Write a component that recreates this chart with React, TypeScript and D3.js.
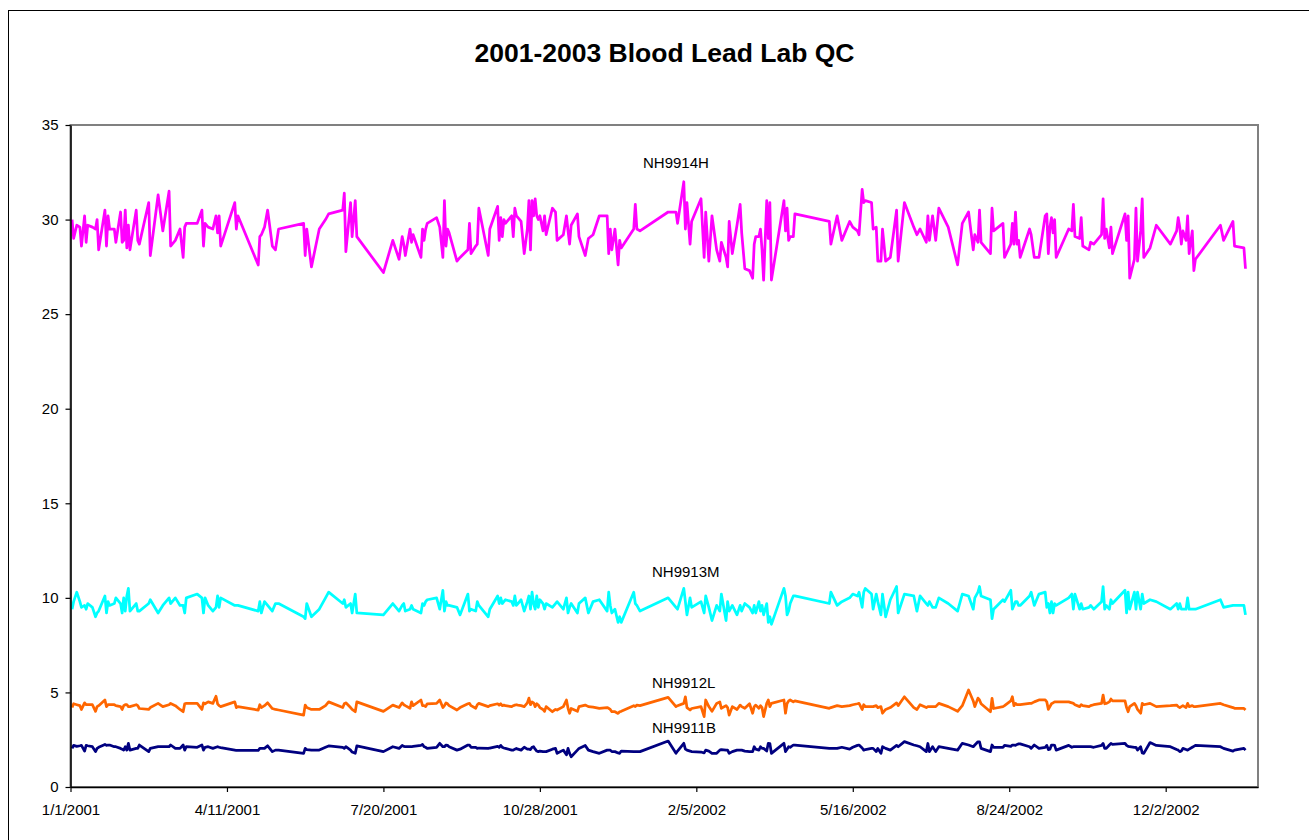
import React, { useEffect, useRef } from "react";
import * as d3 from "d3";

// days since 1/1/2001 for each QC run (shared by all four control materials)
const dayOffsets = [
  1, 2, 4, 6, 7, 9, 10, 11, 14, 16, 17, 18, 22, 23, 24, 25, 28, 29, 32, 33,
  34, 35, 36, 37, 38, 42, 43, 44, 50, 51, 56, 59, 63, 64, 67, 70, 72, 73, 74, 81,
  84, 85, 86, 88, 91, 93, 94, 95, 96, 105, 106, 107, 120, 121, 122, 124, 126, 129, 131, 133,
  149, 150, 151, 154, 159, 163, 165, 174, 175, 176, 179, 180, 182, 183,
  200, 206, 210, 212, 213, 214, 217, 218, 219, 224, 225, 226, 227, 228, 234, 236, 238, 239, 240, 241,
  242, 247, 249, 254, 255, 256, 259, 260, 261, 267, 268, 273, 274, 275, 276, 277, 278, 282, 283, 284,
  285, 286, 288, 290, 292, 293, 294, 295, 296, 297, 298, 299, 300, 302, 303, 304, 308, 310, 311, 315,
  317, 318, 319, 320, 324, 325, 329, 331, 334, 338, 343, 344, 345, 346, 348, 350, 351, 352, 360, 361,
  362, 364, 382, 387, 388,
  392, 393, 394, 396, 397, 403, 405, 406, 408, 410, 413, 415, 416, 419, 420, 421, 423, 426, 428, 429,
  431, 434, 436, 437, 438, 440, 441, 442, 443, 445, 446, 447, 448, 456, 457, 458, 459, 460, 462, 463,
  485, 486, 490, 493, 498, 500, 503, 504, 506, 507, 508, 512, 513, 515, 516, 518, 519, 521, 524, 528,
  529, 533, 539, 541, 543, 547, 548, 549, 551, 553, 555, 561, 567, 570, 574, 577, 578, 580, 581, 582,
  588, 589, 590,
  596, 597, 601, 602, 603, 604, 605, 606, 607, 613, 614, 616, 619, 623, 624, 625, 626, 627, 628, 629,
  630, 638, 640, 641, 642, 645, 646, 647, 651, 652, 654, 659, 660, 661, 662, 664, 665, 666, 674, 675,
  676, 677, 680, 681, 682, 684, 685, 686, 690, 694, 703, 707, 708, 709, 710, 711, 713, 714, 715, 717,
  718, 719, 735, 737, 743, 744, 750, 751,
];

const nh9914h = [
  30.0, 29.0, 29.7, 29.6, 28.6, 30.2, 28.8, 29.7, 29.6, 29.5, 30.0, 28.4, 30.5, 28.6, 30.2, 29.5, 29.5, 28.8, 30.4, 28.8,
  28.9, 30.5, 28.5, 29.7, 28.4, 30.5, 28.9, 28.7, 30.9, 28.1, 31.3, 29.4, 31.5, 28.6, 28.9, 29.5, 28.0, 29.6, 29.8, 29.8,
  30.5, 28.6, 29.8, 29.6, 29.5, 30.2, 29.3, 30.2, 28.6, 30.9, 29.5, 30.2, 27.6, 29.1, 29.2, 29.6, 30.5, 28.6, 28.4, 29.5,
  29.8, 28.1, 29.5, 27.5, 29.5, 30.0, 30.3, 30.5, 31.4, 28.3, 30.9, 29.1, 31.0, 29.1,
  27.2, 28.9, 27.9, 29.1, 28.7, 28.1, 29.5, 28.8, 29.2, 28.0, 29.5, 28.9, 29.5, 29.8, 30.1, 29.6, 28.0, 31.0, 28.6, 29.5,
  29.3, 27.8, 28.0, 28.4, 29.8, 28.2, 28.6, 28.7, 30.6, 28.1, 29.5, 30.7, 28.9, 30.1, 29.1, 30.0, 29.8, 30.2, 29.1, 30.6,
  30.2, 30.1, 29.9, 28.2, 29.5, 31.0, 28.4, 31.0, 30.2, 31.1, 30.2, 30.0, 30.2, 29.4, 30.2, 29.2, 30.6, 30.4, 28.9, 29.2,
  30.2, 29.4, 28.7, 29.7, 30.3, 29.1, 28.1, 29.0, 29.2, 30.2, 30.2, 28.2, 29.5, 28.4, 29.5, 27.6, 28.9, 28.5, 29.5, 30.8,
  29.5, 29.4, 30.4, 30.4, 29.8,
  32.0, 29.5, 30.9, 28.7, 29.9, 31.1, 28.0, 30.4, 27.8, 30.2, 28.4, 27.8, 28.8, 28.0, 27.5, 29.9, 28.2, 29.7, 30.8, 29.3,
  27.4, 27.3, 26.9, 28.7, 29.1, 29.1, 29.5, 28.4, 26.8, 31.0, 29.0, 30.9, 26.8, 31.0, 29.4, 30.6, 28.9, 29.1, 29.1, 30.3,
  29.9, 28.7, 30.2, 28.9, 29.9, 29.6, 29.4, 29.2, 31.6, 30.9, 31.0, 30.9, 29.5, 29.6, 27.8, 27.8, 29.5, 27.8, 28.0, 30.5,
  27.8, 30.9, 29.6, 29.2, 29.5, 28.8, 30.2, 28.9, 30.2, 28.9, 30.6, 29.6, 27.6, 29.8, 30.4, 28.4, 29.2, 28.8, 30.5, 28.8,
  28.2, 30.6, 29.4,
  29.8, 28.0, 28.7, 29.8, 28.7, 30.4, 28.7, 28.9, 28.0, 29.5, 29.2, 28.0, 28.0, 30.2, 30.3, 28.2, 29.6, 30.1, 29.3, 30.0,
  28.0, 29.5, 29.4, 30.8, 29.1, 29.0, 30.1, 28.6, 28.4, 28.8, 28.7, 29.2, 31.1, 29.0, 29.5, 28.5, 29.6, 28.2, 30.3, 28.9,
  30.2, 26.9, 27.9, 30.6, 27.8, 29.4, 31.1, 28.0, 28.5, 29.7, 28.7, 29.4, 30.1, 29.6, 28.7, 29.4, 28.9, 30.2, 28.2, 29.4,
  27.3, 27.9, 29.7, 28.9, 29.9, 28.6, 28.5, 27.4,
];

const nh9913m = [
  9.4, 9.8, 10.3, 9.8, 9.5, 9.6, 9.4, 9.7, 9.5, 9.0, 9.2, 9.3, 10.1, 9.2, 9.8, 9.6, 9.7, 10.0, 9.7, 9.2,
  10.0, 9.3, 10.1, 10.5, 9.3, 9.7, 9.3, 9.3, 9.7, 9.9, 9.2, 9.6, 10.0, 9.7, 10.0, 9.6, 9.6, 9.2, 10.0, 10.2,
  10.0, 9.2, 10.0, 9.6, 9.3, 9.5, 10.1, 9.5, 10.0, 9.6, 9.6, 9.6, 9.3, 9.8, 9.2, 9.8, 9.6, 9.3, 9.7, 9.7,
  9.0, 8.9, 9.7, 9.0, 9.4, 10.0, 10.3, 9.7, 9.9, 9.5, 9.7, 9.2, 10.2, 9.2,
  9.1, 9.7, 9.3, 9.6, 9.7, 9.3, 9.4, 9.6, 9.4, 9.2, 9.7, 9.6, 9.8, 9.9, 10.0, 9.4, 10.4, 9.3, 9.8, 9.6,
  9.6, 9.5, 9.1, 10.2, 9.3, 9.4, 9.3, 9.8, 9.6, 9.0, 9.4, 10.1, 9.7, 10.0, 9.7, 9.8, 9.9, 9.8, 9.6, 10.1,
  9.6, 9.7, 9.9, 9.3, 9.8, 10.1, 9.4, 10.3, 9.7, 9.4, 10.1, 9.5, 9.9, 9.7, 9.4, 9.7, 9.5, 9.7, 9.8, 9.4,
  10.0, 9.2, 9.5, 9.7, 9.2, 9.7, 10.0, 9.2, 9.8, 9.9, 9.3, 10.3, 9.6, 9.2, 9.4, 8.7, 9.0, 8.7, 10.3, 9.7,
  9.6, 9.3, 10.0, 9.5, 9.4,
  10.5, 9.8, 9.1, 10.0, 9.5, 9.8, 9.2, 10.1, 9.5, 8.8, 9.6, 9.3, 10.2, 8.8, 9.8, 9.3, 9.6, 9.1, 9.6, 9.3,
  9.7, 9.5, 9.2, 9.6, 9.2, 9.8, 9.3, 9.6, 9.1, 9.7, 8.7, 9.0, 8.6, 10.5, 10.1, 9.1, 9.3, 9.7, 10.1, 10.1,
  9.7, 10.3, 9.6, 9.8, 10.0, 10.2, 10.1, 10.3, 9.5, 10.3, 10.5, 10.2, 9.4, 10.2, 9.8, 9.1, 10.2, 9.0, 9.9, 10.6,
  9.2, 10.2, 10.1, 9.3, 10.1, 9.7, 9.6, 9.8, 9.5, 9.5, 10.0, 9.7, 9.3, 10.2, 10.1, 9.4, 10.0, 10.3, 10.6, 10.1,
  9.9, 8.9, 9.4,
  9.9, 9.8, 10.4, 9.4, 9.6, 9.8, 9.8, 9.6, 9.6, 10.1, 10.3, 9.6, 10.2, 10.3, 9.5, 9.7, 9.2, 9.8, 9.2, 9.7,
  9.6, 10.0, 10.2, 9.4, 10.2, 9.4, 9.7, 9.4, 9.5, 9.6, 9.4, 9.8, 10.6, 9.4, 9.6, 9.4, 9.9, 9.7, 10.4, 9.2,
  10.3, 9.4, 10.3, 9.4, 10.3, 9.4, 10.2, 9.7, 9.9, 9.8, 9.4, 9.7, 9.4, 9.7, 9.4, 9.4, 9.4, 10.0, 9.4, 9.4,
  9.4, 9.4, 9.9, 9.5, 9.6, 9.6, 9.6, 9.1,
];

const nh9912l = [
  4.2, 4.4, 4.35, 4.3, 4.1, 4.45, 4.35, 4.35, 4.35, 4.0, 4.25, 4.3, 4.6, 4.25, 4.35, 4.35, 4.35, 4.3, 4.25, 4.1,
  4.3, 4.35, 4.35, 4.25, 4.25, 4.35, 4.3, 4.15, 4.1, 4.2, 4.42, 4.25, 4.35, 4.42, 4.3, 4.1, 3.98, 4.4, 4.42, 4.42,
  4.1, 4.45, 4.4, 4.5, 4.42, 4.8, 4.4, 4.3, 4.25, 4.5, 4.2, 4.25, 4.07, 4.35, 4.2, 4.3, 4.45, 4.15, 4.1, 4.07,
  3.8, 4.33, 4.2, 4.1, 4.1, 4.3, 4.5, 4.2, 4.4, 4.45, 4.2, 4.1, 3.98, 4.5,
  4.0, 4.33, 4.2, 4.45, 4.35, 4.3, 4.16, 4.5, 4.3, 4.6, 4.3, 4.3, 4.25, 4.4, 4.42, 4.6, 4.2, 4.3, 4.45, 4.4,
  4.3, 4.07, 4.2, 4.4, 4.42, 4.3, 4.16, 4.35, 4.42, 4.25, 4.3, 4.4, 4.33, 4.4, 4.3, 4.33, 4.3, 4.25, 4.3, 4.33,
  4.35, 4.33, 4.3, 4.25, 4.45, 4.7, 4.35, 4.5, 4.45, 4.25, 4.4, 4.33, 4.2, 4.1, 4.0, 4.25, 3.98, 4.1, 4.07, 4.25,
  4.6, 4.16, 3.9, 4.15, 4.0, 4.25, 4.33, 4.25, 4.22, 4.16, 4.2, 4.16, 4.1, 3.98, 3.98, 3.89, 3.98, 4.0, 4.3, 4.25,
  4.33, 4.3, 4.74, 4.25, 4.3,
  4.42, 4.77, 4.2, 4.07, 4.15, 4.25, 3.72, 4.6, 4.25, 4.0, 4.42, 4.5, 4.16, 4.3, 4.2, 3.8, 4.25, 4.1, 4.33, 4.25,
  4.16, 4.4, 3.9, 4.25, 4.33, 4.16, 4.3, 4.2, 3.72, 4.42, 4.6, 4.25, 4.42, 4.6, 3.9, 4.42, 4.55, 4.6, 4.5, 4.55,
  4.16, 4.2, 4.3, 4.25, 4.3, 4.35, 4.4, 4.42, 4.1, 4.35, 4.25, 4.25, 4.25, 4.3, 4.2, 4.25, 3.9, 4.1, 4.2, 4.45,
  4.3, 4.77, 4.2, 4.1, 4.35, 4.2, 4.25, 4.25, 4.25, 4.25, 4.42, 4.25, 4.0, 4.3, 5.13, 4.55, 4.25, 4.7, 4.6, 4.4,
  3.98, 4.69, 4.15,
  4.25, 4.3, 4.55, 4.77, 4.3, 4.42, 4.35, 4.35, 4.35, 4.42, 4.42, 4.5, 4.6, 4.6, 4.5, 4.1, 4.25, 4.4, 4.45, 4.5,
  4.5, 4.5, 4.45, 4.42, 4.35, 4.25, 4.35, 4.3, 4.25, 4.3, 4.35, 4.42, 4.86, 4.4, 4.42, 4.5, 4.65, 4.55, 4.55, 4.2,
  3.98, 4.25, 4.42, 4.3, 4.1, 3.9, 4.42, 4.35, 4.42, 4.25, 4.3, 4.33, 4.25, 4.2, 4.25, 4.3, 4.2, 4.42, 4.25, 4.3,
  4.25, 4.25, 4.42, 4.35, 4.2, 4.16, 4.16, 4.07,
];

const nh9911b = [
  2.04, 2.2, 2.15, 2.18, 2.2, 1.9, 2.2, 2.18, 2.13, 1.87, 2.04, 2.1, 2.25, 2.2, 2.22, 2.22, 2.13, 2.13, 2.04, 2.0,
  1.95, 2.13, 1.95, 2.31, 1.95, 2.04, 2.04, 2.22, 1.87, 2.04, 2.13, 2.13, 2.13, 2.22, 2.04, 2.04, 2.22, 1.95, 2.13, 2.1,
  2.22, 1.95, 2.1, 2.13, 2.04, 2.1, 2.13, 2.1, 2.08, 1.95, 1.93, 1.93, 1.93, 2.04, 2.04, 2.04, 2.18, 1.87, 1.95, 1.95,
  1.78, 2.04, 1.98, 1.95, 1.95, 2.1, 2.17, 2.1, 2.04, 2.13, 1.95, 1.85, 1.78, 2.17,
  1.87, 2.13, 2.04, 2.2, 2.15, 2.13, 2.13, 2.13, 2.15, 2.2, 2.25, 2.13, 2.1, 2.04, 2.1, 2.31, 2.13, 2.13, 2.22, 2.2,
  2.13, 1.95, 2.0, 2.22, 2.22, 2.1, 2.1, 2.04, 2.06, 2.04, 2.06, 2.15, 2.1, 2.2, 2.1, 2.06, 2.04, 1.95, 1.95, 2.0,
  2.04, 2.0, 1.95, 2.1, 2.0, 2.0, 1.98, 2.1, 2.13, 2.0, 1.9, 1.87, 1.9, 1.87, 1.87, 1.87, 2.0, 2.04, 1.78, 1.95,
  1.7, 2.04, 1.78, 1.6, 1.95, 2.04, 2.2, 1.95, 1.87, 1.78, 1.95, 1.95, 1.95, 1.87, 1.87, 1.8, 1.78, 1.9, 1.87, 1.87,
  1.87, 1.87, 2.43, 1.78, 1.9,
  2.31, 2.0, 1.95, 1.9, 1.87, 1.85, 1.8, 1.95, 1.9, 1.78, 1.78, 1.95, 1.98, 1.95, 1.95, 1.78, 1.87, 1.95, 1.95, 1.95,
  1.9, 1.87, 1.87, 2.13, 2.0, 1.95, 2.13, 2.04, 2.04, 1.9, 2.31, 2.3, 1.78, 2.31, 1.87, 2.0, 2.13, 2.1, 2.22, 2.22,
  2.04, 2.04, 2.04, 2.1, 2.0, 2.1, 2.2, 2.22, 2.06, 1.95, 1.98, 2.04, 2.04, 1.87, 2.04, 1.78, 2.13, 2.04, 1.95, 2.2,
  2.13, 2.4, 2.22, 2.18, 2.13, 1.87, 2.3, 1.87, 2.13, 1.87, 2.13, 2.04, 1.95, 2.31, 2.22, 2.13, 2.22, 2.39, 2.39, 2.04,
  1.87, 2.22, 2.1,
  2.1, 2.2, 2.15, 2.22, 2.22, 2.2, 2.25, 2.28, 2.28, 2.13, 2.04, 2.22, 2.04, 2.1, 2.2, 1.98, 2.0, 2.22, 2.22, 2.2,
  1.95, 2.2, 2.1, 2.13, 2.13, 2.13, 2.13, 2.13, 2.13, 2.13, 2.1, 2.2, 2.3, 2.04, 2.04, 2.22, 2.3, 2.25, 2.31, 2.2,
  2.15, 2.13, 2.1, 2.1, 1.95, 2.13, 1.8, 1.78, 2.35, 2.2, 2.13, 1.98, 1.95, 1.87, 1.9, 2.04, 1.98, 1.95, 2.0, 2.1,
  2.15, 2.2, 2.13, 2.04, 1.9, 1.95, 2.04, 1.95,
];

const seriesNames = ["NH9914H", "NH9913M", "NH9912L", "NH9911B"];
const seriesColors = ["#ff00ff", "#00ffff", "#ff6600", "#000080"];
const seriesValues = [nh9914h, nh9913m, nh9912l, nh9911b];

const xTickLabels = ["1/1/2001", "4/11/2001", "7/20/2001", "10/28/2001", "2/5/2002", "5/16/2002", "8/24/2002", "12/2/2002"];
const yTickValues = [0, 5, 10, 15, 20, 25, 30, 35];

const FONT = "'Liberation Sans', Arial, Helvetica, sans-serif";

const App = () => {
  const svgRef = useRef<SVGSVGElement>(null);

  useEffect(() => {
    const svg = d3.select(svgRef.current);
    svg.selectAll("*").remove();

    const width = 1309, height = 840;
    const plot = { left: 70.5, right: 1258, top: 125, bottom: 787 };

    const start = new Date(2001, 0, 1);
    const dates = dayOffsets.map(d => d3.timeDay.offset(start, d));
    const parse = d3.timeParse("%m/%d/%Y");

    const x = d3.scaleTime()
      .domain([start, d3.timeDay.offset(start, 759)])
      .range([plot.left, plot.right]);

    const y = d3.scaleLinear()
      .domain([0, 35])
      .range([plot.bottom, plot.top]);

    // chart frame
    svg.append("rect")
      .attr("x", 8.5).attr("y", 10.5)
      .attr("width", width).attr("height", height)
      .attr("fill", "#fff").attr("stroke", "#000").attr("stroke-width", 1);

    // plot area border
    svg.append("rect")
      .attr("x", plot.left).attr("y", plot.top)
      .attr("width", plot.right - plot.left).attr("height", plot.bottom - plot.top)
      .attr("fill", "none").attr("stroke", "#808080").attr("stroke-width", 2);

    svg.append("text")
      .attr("x", 664.5).attr("y", 62)
      .attr("text-anchor", "middle")
      .attr("font-family", FONT).attr("font-size", 26.5).attr("font-weight", "bold")
      .text("2001-2003 Blood Lead Lab QC");

    const line = d3.line<number>()
      .x((_, i) => x(dates[i]))
      .y(v => y(v));

    svg.append("g")
      .selectAll("path")
      .data(seriesValues)
      .join("path")
      .attr("d", d => line(d))
      .attr("fill", "none")
      .attr("stroke", (_, i) => seriesColors[i])
      .attr("stroke-width", 2.75)
      .attr("stroke-linejoin", "round");

    // axes
    const yAxis = svg.append("g")
      .attr("transform", `translate(${plot.left},0)`)
      .call(d3.axisLeft(y).tickValues(yTickValues).tickSize(5).tickSizeOuter(0).tickPadding(7));

    const xAxis = svg.append("g")
      .attr("transform", `translate(0,${plot.bottom})`)
      .call(d3.axisBottom(x)
        .tickValues(xTickLabels.map(s => parse(s) as Date))
        .tickFormat(d3.timeFormat("%-m/%-d/%Y") as any)
        .tickSize(5).tickSizeOuter(0).tickPadding(12));

    [yAxis, xAxis].forEach(g => {
      g.select(".domain").attr("stroke", "#000").attr("stroke-width", 1.5);
      g.selectAll(".tick line").attr("stroke", "#000").attr("stroke-width", 1.2);
      g.selectAll(".tick text")
        .attr("font-family", FONT).attr("font-size", 15).attr("fill", "#000");
    });

    // series labels
    const labelPos = [[643, 168], [652, 577], [652, 688], [652, 733]];
    svg.append("g")
      .selectAll("text")
      .data(seriesNames)
      .join("text")
      .attr("x", (_, i) => labelPos[i][0])
      .attr("y", (_, i) => labelPos[i][1])
      .attr("font-family", FONT).attr("font-size", 15).attr("fill", "#000")
      .text(d => d);
  }, []);

  return (
    <svg ref={svgRef} width={1309} height={840}
      style={{ position: "absolute", left: 0, top: 0, background: "#fff" }} />
  );
};

export default App;
